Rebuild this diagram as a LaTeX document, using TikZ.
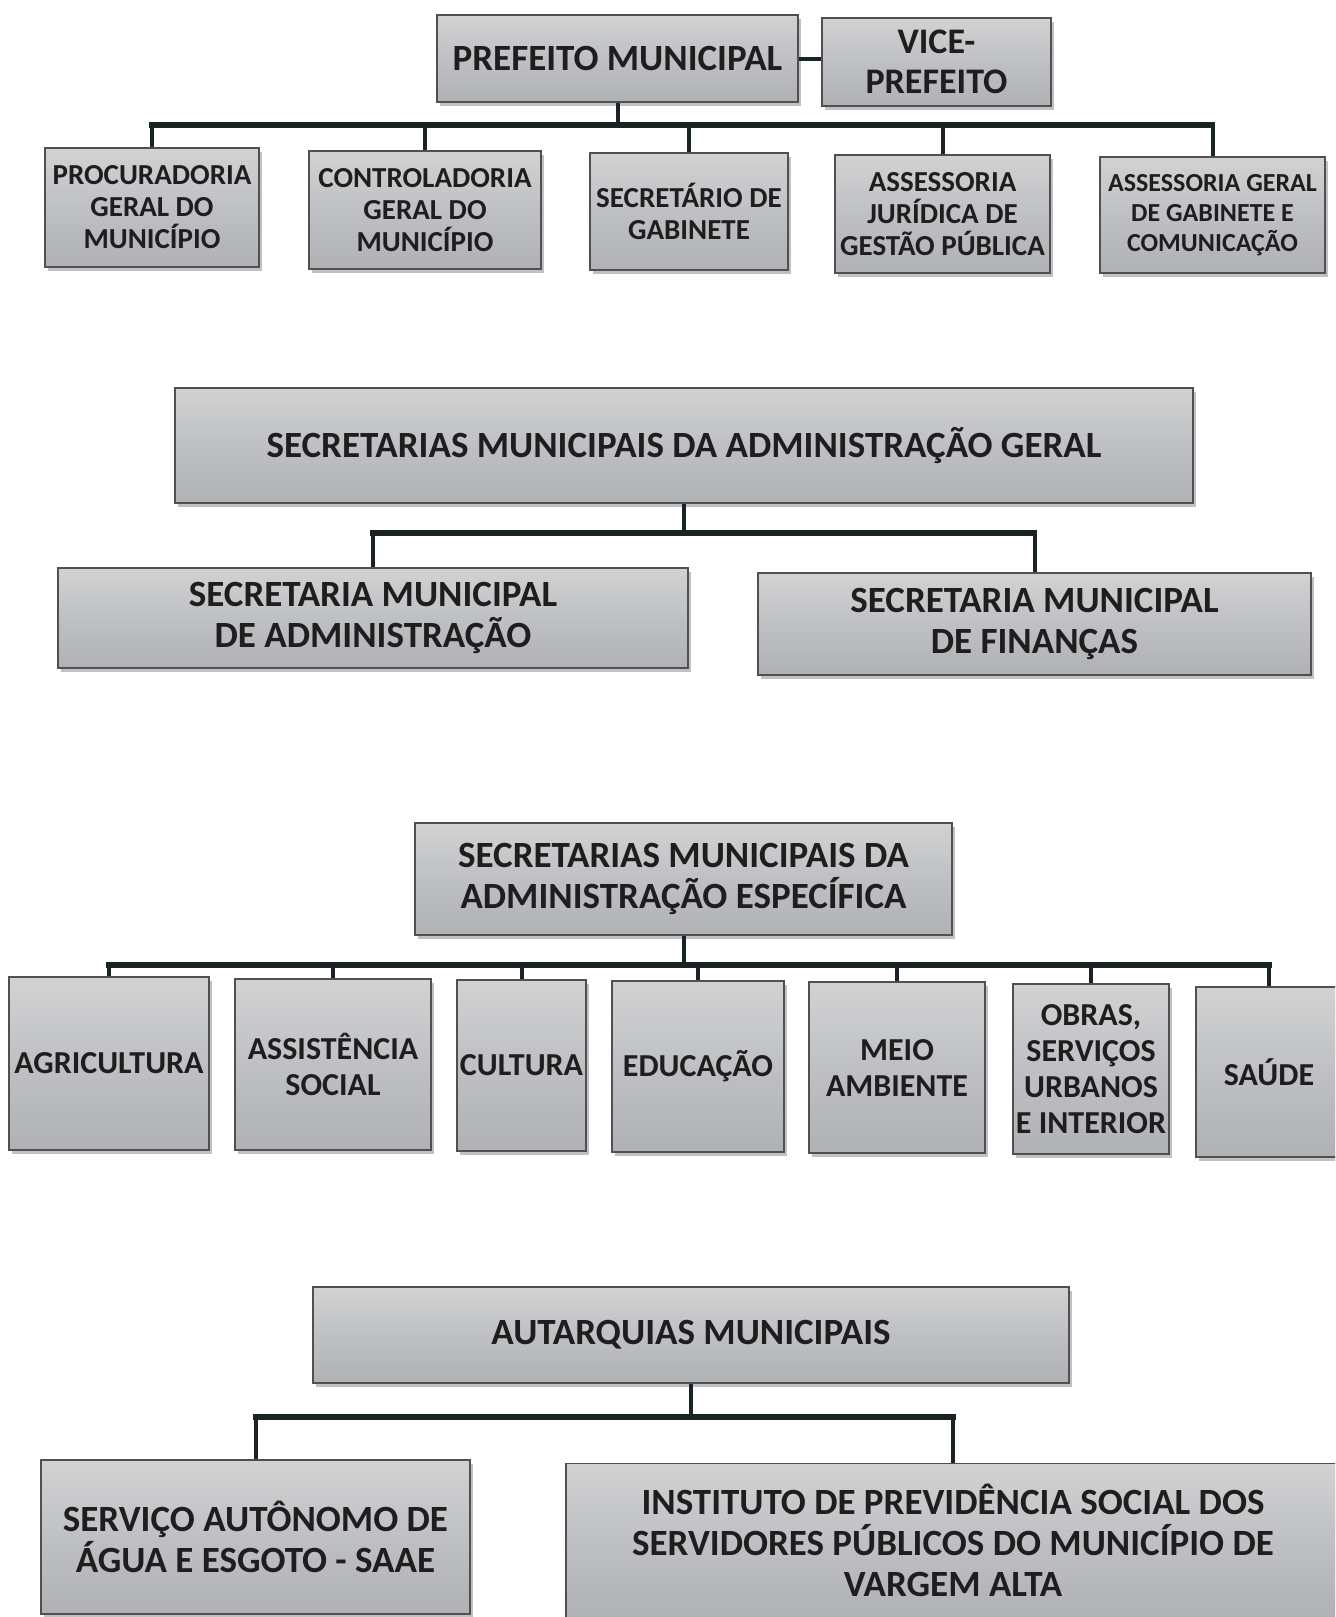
\documentclass[tikz,border=0pt]{standalone}
\usepackage{fontspec}
\setmainfont{Carlito}
\usetikzlibrary{shadows}

\definecolor{caixatopo}{RGB}{210,210,210}
\definecolor{caixameio}{RGB}{190,192,196}
\definecolor{caixabase}{RGB}{176,177,180}
\definecolor{caixaborda}{RGB}{80,80,80}
\definecolor{textocor}{RGB}{30,30,30}
\definecolor{linhacor}{RGB}{26,36,36}

\tikzset{
	caixa/.style={draw=caixaborda, line width=0.6pt, top color=caixatopo, bottom color=caixabase, middle color=caixameio,
		drop shadow={shadow xshift=1.5pt, shadow yshift=-2pt, opacity=0.3, fill=black!80},
		align=center, inner sep=0pt, text=textocor},
	letrag/.style={font=\fontsize{18.5}{20.5}\selectfont\bfseries},
	letrav/.style={font=\fontsize{18}{20}\selectfont\bfseries},
	letram/.style={font=\fontsize{14.5}{16}\selectfont\bfseries},
	letrap/.style={font=\fontsize{13}{15}\selectfont\bfseries},
	letraa/.style={font=\fontsize{16}{18}\selectfont\bfseries},
	ligacao/.style={draw=linhacor, line width=2pt},
	barra/.style={draw=linhacor, line width=2.6pt, line cap=rect}
}

\begin{document}
\begin{tikzpicture}[x=0.5pt, y=-0.5pt]
	\useasboundingbox (0,0) rectangle (1335,1617);
	\clip (0,0) rectangle (1335,1617);

	% prefeito e vice
	\node [caixa, letrag, minimum width=180.5pt, minimum height=43.5pt] (prefeito) at (617.5,58.5) {PREFEITO MUNICIPAL};
	\node [caixa, letrav, minimum width=114.5pt, minimum height=44pt] (vice) at (936.5,62) {VICE-\\PREFEITO};
	\draw [ligacao] (prefeito.east) -- (prefeito.east -| vice.west);

	% orgaos ligados ao prefeito
	\node [caixa, letram, minimum width=107pt, minimum height=59.5pt] (procuradoria) at (152,207.5) {PROCURADORIA\\GERAL DO\\MUNICÍPIO};
	\node [caixa, letram, minimum width=116pt, minimum height=59pt] (controladoria) at (425,210) {CONTROLADORIA\\GERAL DO\\MUNICÍPIO};
	\node [caixa, letram, minimum width=99pt, minimum height=58.5pt] (gabinete) at (689,211.5) {SECRETÁRIO DE\\GABINETE};
	\node [caixa, letram, minimum width=107.5pt, minimum height=59pt] (juridica) at (942.5,214) {ASSESSORIA\\JURÍDICA DE\\GESTÃO PÚBLICA};
	\node [caixa, letrap, minimum width=112.5pt, minimum height=58pt] (comunicacao) at (1212.5,215) {ASSESSORIA GERAL\\DE GABINETE E\\COMUNICAÇÃO};

	\coordinate (barra1) at (0,125);
	\draw [barra] (procuradoria.north |- barra1) -- (comunicacao.north |- barra1);
	\draw [ligacao] (prefeito.south) -- (prefeito.south |- barra1);
	\foreach \n in {procuradoria, controladoria, gabinete, juridica, comunicacao}
		\draw [ligacao] (\n.north |- barra1) -- (\n.north);

	% administracao geral
	\node [caixa, letrag, minimum width=509pt, minimum height=57.5pt] (geral) at (684,445.5) {SECRETARIAS MUNICIPAIS DA ADMINISTRAÇÃO GERAL};
	\node [caixa, letrag, minimum width=315pt, minimum height=50pt] (administracao) at (373,618) {SECRETARIA MUNICIPAL\\DE ADMINISTRAÇÃO};
	\node [caixa, letrag, minimum width=276.5pt, minimum height=51pt] (financas) at (1034.5,624) {SECRETARIA MUNICIPAL\\DE FINANÇAS};

	\coordinate (barra2) at (0,533);
	\draw [barra] (administracao.north |- barra2) -- (financas.north |- barra2);
	\draw [ligacao] (geral.south) -- (geral.south |- barra2);
	\foreach \n in {administracao, financas}
		\draw [ligacao] (\n.north |- barra2) -- (\n.north);

	% administracao especifica
	\node [caixa, letrag, minimum width=268.5pt, minimum height=56pt] (especifica) at (683.5,879) {SECRETARIAS MUNICIPAIS DA\\ADMINISTRAÇÃO ESPECÍFICA};
	\node [caixa, letraa, minimum width=100pt, minimum height=86.5pt] (agricultura) at (109,1063.5) {AGRICULTURA};
	\node [caixa, letraa, minimum width=98pt, minimum height=85.5pt] (assistencia) at (333,1064.5) {ASSISTÊNCIA\\SOCIAL};
	\node [caixa, letraa, minimum width=64.5pt, minimum height=85.5pt] (cultura) at (521.5,1065.5) {CULTURA};
	\node [caixa, letraa, minimum width=86pt, minimum height=85.5pt] (educacao) at (698,1066.5) {EDUCAÇÃO};
	\node [caixa, letraa, minimum width=88pt, minimum height=85.5pt] (ambiente) at (897,1067.5) {MEIO\\AMBIENTE};
	\node [caixa, letraa, minimum width=78pt, minimum height=85pt] (obras) at (1091,1069) {OBRAS,\\SERVIÇOS\\URBANOS\\E INTERIOR};
	\node [caixa, letraa, minimum width=73pt, minimum height=85pt] (saude) at (1269,1072) {SAÚDE};

	\coordinate (barra3) at (0,965);
	\draw [barra] (agricultura.north |- barra3) -- (saude.north |- barra3);
	\draw [ligacao] (especifica.south) -- (especifica.south |- barra3);
	\foreach \n in {agricultura, assistencia, cultura, educacao, ambiente, obras, saude}
		\draw [ligacao] (\n.north |- barra3) -- (\n.north);

	% autarquias
	\node [caixa, letrag, minimum width=378pt, minimum height=48pt] (autarquias) at (691,1335) {AUTARQUIAS MUNICIPAIS};
	\node [caixa, letrag, minimum width=214.5pt, minimum height=77pt] (saae) at (255.5,1537) {SERVIÇO AUTÔNOMO DE\\ÁGUA E ESGOTO - SAAE};
	\node [caixa, letrag, minimum width=387pt, minimum height=77pt] (instituto) at (953,1540.5) {INSTITUTO DE PREVIDÊNCIA SOCIAL DOS\\SERVIDORES PÚBLICOS DO MUNICÍPIO DE\\VARGEM ALTA};

	\coordinate (barra4) at (0,1417);
	\draw [barra] (saae.north |- barra4) -- (instituto.north |- barra4);
	\draw [ligacao] (autarquias.south) -- (autarquias.south |- barra4);
	\foreach \n in {saae, instituto}
		\draw [ligacao] (\n.north |- barra4) -- (\n.north);
\end{tikzpicture}
\end{document}
